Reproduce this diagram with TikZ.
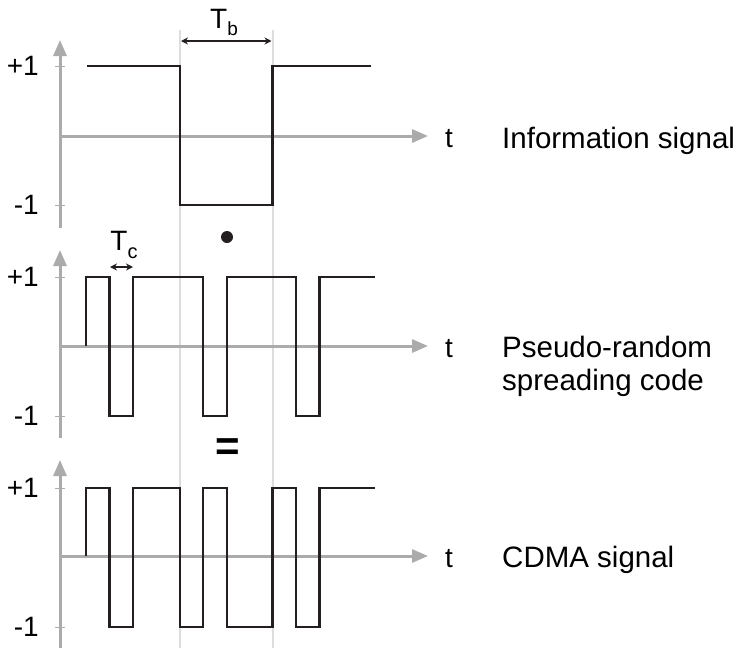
\documentclass[tikz,border=0pt]{standalone}
\usepackage{fontspec}
\setmainfont{Liberation Sans}
\usetikzlibrary{arrows.meta}
\definecolor{axisgray}{HTML}{ABABAB}
\definecolor{guidegray}{HTML}{DDDDDD}
\definecolor{sig}{HTML}{231F20}
\begin{document}
\begin{tikzpicture}[x=1pt,y=-1pt,
  axis/.style={draw=axisgray,line width=3pt,-{Triangle[length=16pt,width=13pt]}},
  tickmark/.style={draw=axisgray,line width=0.8pt},
  guide/.style={draw=guidegray,line width=2pt},
  wave/.style={draw=sig,line width=2.2pt,line join=miter},
  lvl/.style={anchor=east,inner sep=0pt,font=\fontsize{28}{30}\selectfont},
  tlabel/.style={anchor=base,inner sep=0pt,font=\fontsize{28}{30}\selectfont},
  desc/.style={anchor=base west,inner sep=0pt,font=\fontsize{29.5}{33}\selectfont,align=left},
  dimarrow/.style={draw=sig,line width=1.2pt,{Stealth[length=7pt,width=7pt]}-{Stealth[length=7pt,width=7pt]}}
]
\useasboundingbox (0,0) rectangle (736,648);

% guides
\coordinate (g1t) at (180,30);  \coordinate (g1b) at (180,648);
\coordinate (g2t) at (272.5,30); \coordinate (g2b) at (272.5,648);
\draw[guide] (g1t) -- (g1b);
\draw[guide] (g2t) -- (g2b);

% axes: tip, +1, zero, -1, bottom
\foreach \tp/\pa/\z/\ma/\bt/\n in {40/66/136/205/228/1, 250/277/346/416/438/2, 460/488/556/627/648/3}{
  \coordinate (yb\n) at (60,\bt);
  \coordinate (yt\n) at (60,\tp);
  \coordinate (xl\n) at (60,\z);
  \coordinate (xr\n) at (428,\z);
  \draw[axis] (yb\n) -- (yt\n);
  \draw[axis] (xl\n) -- (xr\n);
  \draw[tickmark] (55,\pa) -- (65,\pa);
  \draw[tickmark] (55,\ma) -- (65,\ma);
  \node[lvl] (p\n) at (39,\pa) {+1};
  \node[lvl] (m\n) at (39,\ma) {-1};
  \node[tlabel] (t\n) at (449,\z+11) {t};
}

% information signal
\draw[wave] (87,66) -- (180,66) -- (180,205) -- (272.5,205) -- (272.5,66) -- (371,66);

% spreading code
\draw[wave] (86,346) -- (86,277) -- (109.5,277) -- (109.5,416) -- (133,416) -- (133,277)
  -- (203.3,277) -- (203.3,416) -- (226.7,416) -- (226.7,277) -- (296,277) -- (296,416)
  -- (319.5,416) -- (319.5,277) -- (375,277);

% CDMA signal
\draw[wave] (86,556) -- (86,488) -- (109.5,488) -- (109.5,627) -- (133,627) -- (133,488)
  -- (180,488) -- (180,627) -- (203.3,627) -- (203.3,488) -- (226.7,488) -- (226.7,627)
  -- (272.5,627) -- (272.5,488) -- (296,488) -- (296,627) -- (319.5,627) -- (319.5,488)
  -- (375,488);

% Tb dimension
\coordinate (tbl) at (181,41);
\coordinate (tbr) at (271.5,41);
\draw[dimarrow] (tbl) -- (tbr);
\node[tlabel] (tb) at (224,28) {T\raisebox{-7pt}{\fontsize{19}{19}\selectfont b}};

% Tc dimension
\coordinate (tcl) at (110,267);
\coordinate (tcr) at (133,267);
\draw[dimarrow] (tcl) -- (tcr);
\node[tlabel] (tc) at (124,250) {T\raisebox{-8pt}{\fontsize{20}{20}\selectfont c}};

% operators
\node[circle,fill=sig,minimum size=12pt,inner sep=0pt] (dot) at (227,237) {};
\node[inner sep=0pt,font=\fontsize{42}{42}\selectfont\bfseries] (eq) at (228,450) {=};

% descriptions
\node[desc] (d1) at (502,148) {Information signal};
\node[desc] (d2a) at (502,357) {Pseudo-random};
\node[desc] (d2b) at (502,390) {spreading code};
\node[desc] (d3) at (502,567) {CDMA signal};
\end{tikzpicture}
\end{document}
